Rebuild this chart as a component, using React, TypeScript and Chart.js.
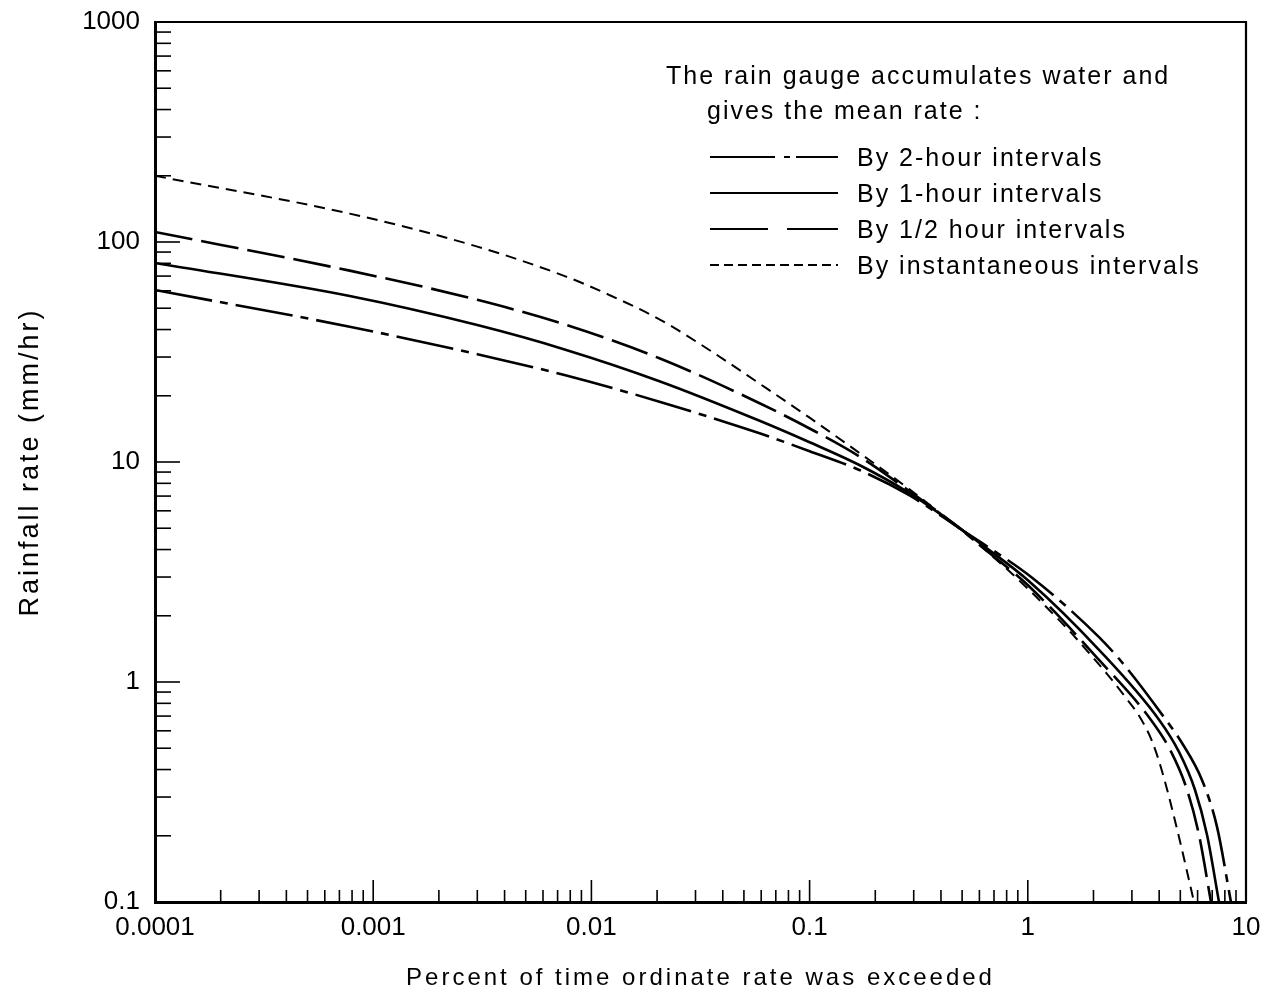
import React, { useEffect, useRef } from "react";
import { Chart, registerables } from "chart.js";

Chart.register(...registerables);

// ---- axis ticks ----
const xTickValues = [0.0001, 0.001, 0.01, 0.1, 1, 10];
const xTickLabels = ["0.0001", "0.001", "0.01", "0.1", "1", "10"];
const yTickValues = [0.1, 1, 10, 100, 1000];
const yTickLabels = ["0.1", "1", "10", "100", "1000"];
const minorSteps = [1, 2, 3, 4, 5, 6, 7, 8, 9];

// ---- text ----
const xTitle = "Percent of time ordinate rate was exceeded";
const yTitle = "Rainfall rate (mm/hr)";
const legendHeading = ["The rain gauge accumulates water and", "gives the mean rate :"];
const seriesLabels = [
  "By 2-hour intervals",
  "By 1-hour intervals",
  "By 1/2 hour intervals",
  "By instantaneous intervals",
];

// ---- series (percent of time exceeded, rainfall rate mm/hr) ----
const twoHourPercent = [0.0001, 0.00078, 0.003, 0.0076, 0.0205, 0.059, 0.1, 0.169, 0.286, 0.5, 0.618, 1.05, 2.12, 2.7, 4.3, 5.09, 6.29, 7.37, 8.53];
const twoHourRate = [60.5, 41.2, 30.9, 24.8, 18.8, 13.5, 11.2, 9.2, 7.07, 4.91, 4.28, 2.97, 1.6, 1.23, 0.672, 0.528, 0.358, 0.219, 0.1];

const oneHourPercent = [0.0001, 0.00078, 0.003, 0.0076, 0.0205, 0.059, 0.1, 0.169, 0.286, 0.5, 0.618, 1.01, 2.12, 4.0, 4.93, 5.84, 6.63, 7.52];
const oneHourRate = [80.3, 56.8, 41.9, 32.4, 23.3, 15.4, 12.3, 9.69, 7.23, 4.91, 4.2, 2.88, 1.4, 0.672, 0.481, 0.323, 0.2016, 0.1];

const halfHourPercent = [0.0001, 0.00078, 0.003, 0.0076, 0.0205, 0.059, 0.1, 0.169, 0.286, 0.5, 0.618, 1.01, 2.12, 3.67, 4.54, 5.37, 6.09, 6.91];
const halfHourRate = [111, 74.1, 54.6, 42.1, 29.6, 18.5, 14.2, 10.6, 7.38, 4.91, 4.11, 2.73, 1.26, 0.672, 0.481, 0.323, 0.2016, 0.1];

const instantPercent = [0.0001, 0.00078, 0.003, 0.0076, 0.0121, 0.0205, 0.0347, 0.059, 0.1, 0.169, 0.286, 0.5, 0.687, 1.04, 1.28, 1.548, 1.91, 2.31, 2.82, 3.24, 3.71, 4.12, 4.78, 5.78];
const instantRate = [200, 134.6, 95.3, 69.8, 57.4, 44.5, 32.3, 22.7, 15.9, 11.0, 7.53, 4.86, 3.74, 2.56, 2.08, 1.71, 1.354, 1.087, 0.846, 0.7, 0.539, 0.394, 0.224, 0.1];

// ---- styles ----
const FONT = '"Liberation Sans", Arial, sans-serif';
const curveDashes = [[58, 8, 8, 8], [], [38, 9], [11, 7]];
const curveWidths = [2.6, 2.6, 2.6, 2];
const legendDashes = [[65, 9, 6, 6, 60], [], [58, 19, 60], [9, 5]];

function toPoints(xs: number[], ys: number[]) {
  return xs.map((x, i) => ({ x, y: ys[i] }));
}

const decoPlugin = {
  id: "deco",
  beforeDraw(chart: any) {
    (chart.ctx as any).letterSpacing = "3px";
  },
  afterDatasetsDraw(chart: any) {
    (chart.ctx as any).letterSpacing = "0px";
  },
  afterDraw(chart: any) {
    const ctx = chart.ctx;
    const area = chart.chartArea;
    const xs = chart.scales.x;
    const ys = chart.scales.y;
    ctx.save();
    ctx.strokeStyle = "#000";
    ctx.setLineDash([]);
    // top & right frame
    ctx.lineWidth = 2.2;
    ctx.beginPath();
    ctx.moveTo(area.left, area.top);
    ctx.lineTo(area.right, area.top);
    ctx.lineTo(area.right, area.bottom);
    ctx.stroke();
    // inward ticks on x axis
    ctx.lineWidth = 1.6;
    for (let e = -4; e <= 0; e++) {
      for (const m of minorSteps) {
        const v = m * Math.pow(10, e);
        if (v <= xs.min * 1.0001 || v >= xs.max * 0.9999) continue;
        const px = xs.getPixelForValue(v);
        const len = m === 1 ? 22 : 12;
        ctx.beginPath();
        ctx.moveTo(px, area.bottom);
        ctx.lineTo(px, area.bottom - len);
        ctx.stroke();
      }
    }
    // inward ticks on y axis
    for (let e = -1; e <= 2; e++) {
      for (const m of minorSteps) {
        const v = m * Math.pow(10, e);
        if (v <= ys.min * 1.0001 || v >= ys.max * 0.9999) continue;
        const py = ys.getPixelForValue(v);
        const len = m === 1 ? 25 : 16;
        ctx.beginPath();
        ctx.moveTo(area.left, py);
        ctx.lineTo(area.left + len, py);
        ctx.stroke();
      }
    }
    // legend
    (ctx as any).letterSpacing = "2px";
    ctx.font = "25px " + FONT;
    ctx.fillStyle = "#000";
    ctx.textAlign = "left";
    ctx.textBaseline = "alphabetic";
    ctx.fillText(legendHeading[0], 666, 84);
    ctx.fillText(legendHeading[1], 707, 119);
    const rowY = [157, 193, 229, 265];
    chart.data.datasets.forEach((ds: any, i: number) => {
      ctx.lineWidth = 2;
      ctx.setLineDash(legendDashes[i]);
      ctx.beginPath();
      ctx.moveTo(710, rowY[i]);
      ctx.lineTo(838, rowY[i]);
      ctx.stroke();
      ctx.setLineDash([]);
      ctx.fillText(ds.label, 857, rowY[i] + 9);
    });
    ctx.restore();
  },
};

export default function App() {
  const ref = useRef<HTMLCanvasElement | null>(null);

  useEffect(() => {
    if (!ref.current) return;
    const series = [
      toPoints(twoHourPercent, twoHourRate),
      toPoints(oneHourPercent, oneHourRate),
      toPoints(halfHourPercent, halfHourRate),
      toPoints(instantPercent, instantRate),
    ];
    const chart = new Chart(ref.current, {
      type: "line",
      data: {
        datasets: series.map((pts, i) => ({
          label: seriesLabels[i],
          data: pts,
          borderColor: "#000",
          backgroundColor: "#000",
          borderWidth: curveWidths[i],
          borderDash: curveDashes[i],
          pointRadius: 0,
          fill: false,
          cubicInterpolationMode: "monotone" as const,
        })),
      },
      options: {
        responsive: true,
        maintainAspectRatio: false,
        animation: false,
        layout: { padding: { left: 0, right: 18, top: 22, bottom: 0 } },
        plugins: { legend: { display: false }, tooltip: { enabled: false } },
        scales: {
          x: {
            type: "logarithmic",
            position: "bottom",
            min: 0.0001,
            max: 10,
            afterBuildTicks: (s: any) => {
              s.ticks = xTickValues.map((v) => ({ value: v }));
            },
            afterFit: (s: any) => {
              s.height = 94;
              s.paddingLeft = 0;
              s.paddingRight = 0;
            },
            grid: { drawOnChartArea: false, drawTicks: false },
            border: { display: true, color: "#000", width: 3 },
            ticks: {
              autoSkip: false,
              maxRotation: 0,
              padding: 10,
              color: "#000",
              z: 1,
              font: { family: FONT, size: 26 },
              callback: (_v: any, i: number) => xTickLabels[i],
            },
            title: {
              display: true,
              text: xTitle,
              color: "#000",
              font: { family: FONT, size: 24 },
              padding: { top: 0, bottom: 3 },
            },
          },
          y: {
            type: "logarithmic",
            position: "left",
            min: 0.1,
            max: 1000,
            afterBuildTicks: (s: any) => {
              s.ticks = yTickValues.map((v) => ({ value: v }));
            },
            afterFit: (s: any) => {
              s.width = 155;
              s.paddingTop = 0;
              s.paddingBottom = 0;
            },
            grid: { drawOnChartArea: false, drawTicks: false },
            border: { display: true, color: "#000", width: 3 },
            ticks: {
              autoSkip: false,
              padding: 15,
              color: "#000",
              z: 1,
              font: { family: FONT, size: 26 },
              callback: (_v: any, i: number) => yTickLabels[i],
            },
            title: {
              display: true,
              text: yTitle,
              color: "#000",
              font: { family: FONT, size: 27 },
              padding: { top: 14, bottom: 0 },
            },
          },
        },
      } as any,
      plugins: [decoPlugin],
    });
    return () => chart.destroy();
  }, []);

  return (
    <div style={{ position: "absolute", left: 0, top: 0, width: 1264, height: 996, background: "#fff" }}>
      <canvas ref={ref} />
    </div>
  );
}
